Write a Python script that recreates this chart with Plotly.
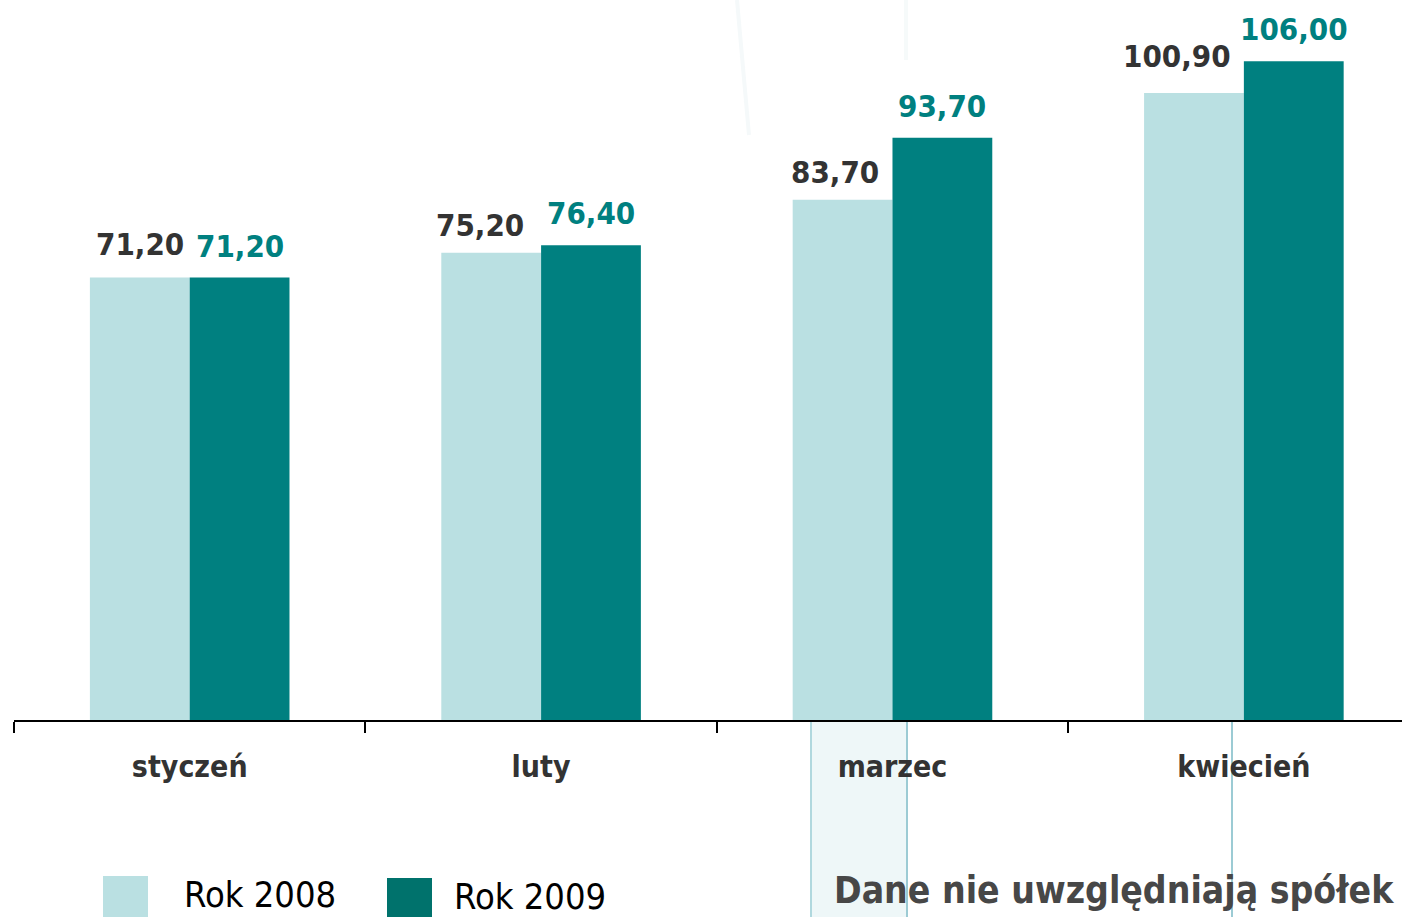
import plotly.graph_objects as go

# ---- data ----
months = ["styczeń", "luty", "marzec", "kwiecień"]
rok_2008 = [71.20, 75.20, 83.70, 100.90]
rok_2009 = [71.20, 76.40, 93.70, 106.00]
series_names = ["Rok 2008", "Rok 2009"]
note_text = "Dane nie uwzględniają spółek"

# ---- styles ----
W, H = 1402, 917
ML, MR, MT, MB = 14, 0, 0, 197
PW, PH = W - ML - MR, H - MT - MB
FONT = "DejaVu Sans Condensed, DejaVu Sans, sans-serif"
C_LIGHT = "#bae0e2"
C_DARK = "#008080"
C_LEG_DARK = "#00726c"
C_TXT = "#333333"

# label fine offsets (px) for 2008 labels
label_dx_2008 = [0, -11, -7, -17]
label_dy_2008 = [1, -5, -5, 4]


def px(x):
    return (x - ML) / PW


def py(y):
    return (H - MB - y) / PH


def fmt(v):
    return f"{v:.2f}".replace(".", ",")


fig = go.Figure()
fig.add_trace(go.Bar(x=months, y=rok_2008, name=series_names[0],
                     marker=dict(color=C_LIGHT, line=dict(width=0))))
fig.add_trace(go.Bar(x=months, y=rok_2009, name=series_names[1],
                     marker=dict(color=C_DARK, line=dict(width=0))))

annotations = []
for i, m in enumerate(months):
    annotations.append(dict(x=m, y=rok_2008[i], xref="x", yref="y", text=fmt(rok_2008[i]),
                            showarrow=False, xanchor="center", yanchor="bottom",
                            xshift=-50 + label_dx_2008[i], yshift=13 + label_dy_2008[i],
                            font=dict(family=FONT, size=31, color=C_TXT, weight="bold")))
    annotations.append(dict(x=m, y=rok_2009[i], xref="x", yref="y", text=fmt(rok_2009[i]),
                            showarrow=False, xanchor="center", yanchor="bottom",
                            xshift=50, yshift=12,
                            font=dict(family=FONT, size=31, color=C_DARK, weight="bold")))

# legend (custom large swatches)
annotations.append(dict(x=px(182), y=py(894), xref="paper", yref="paper", text=series_names[0],
                        showarrow=False, xanchor="left", yanchor="middle",
                        font=dict(family=FONT, size=36, color="#000000")))
annotations.append(dict(x=px(452), y=py(896), xref="paper", yref="paper", text=series_names[1],
                        showarrow=False, xanchor="left", yanchor="middle",
                        font=dict(family=FONT, size=36, color="#000000")))
annotations.append(dict(x=px(1396), y=py(890), xref="paper", yref="paper", text=note_text,
                        showarrow=False, xanchor="right", yanchor="middle",
                        font=dict(family=FONT, size=37, color="#474747", weight="bold")))

shapes = [
    # decorative background band
    dict(type="rect", xref="paper", yref="paper", x0=px(811), x1=px(907), y0=py(917), y1=py(722),
         fillcolor="#eef7f8", line=dict(width=0), layer="below"),
    dict(type="line", xref="paper", yref="paper", x0=px(811), x1=px(811), y0=py(917), y1=py(722),
         line=dict(color="#b0d8de", width=2), layer="below"),
    dict(type="line", xref="paper", yref="paper", x0=px(907), x1=px(907), y0=py(917), y1=py(722),
         line=dict(color="#9ccbd4", width=2), layer="below"),
    dict(type="line", xref="paper", yref="paper", x0=px(1232), x1=px(1232), y0=py(917), y1=py(722),
         line=dict(color="#9ccbd4", width=2), layer="below"),
    dict(type="line", xref="paper", yref="paper", x0=px(737), x1=px(749), y0=py(0), y1=py(135),
         line=dict(color="#f5f9fa", width=4), layer="below"),
    dict(type="line", xref="paper", yref="paper", x0=px(906), x1=px(906), y0=py(0), y1=py(60),
         line=dict(color="#f6fafa", width=4), layer="below"),
    # legend swatches
    dict(type="rect", xref="paper", yref="paper", x0=px(103), x1=px(148), y0=py(917), y1=py(876),
         fillcolor=C_LIGHT, line=dict(width=0)),
    dict(type="rect", xref="paper", yref="paper", x0=px(387), x1=px(432), y0=py(917), y1=py(878),
         fillcolor=C_LEG_DARK, line=dict(width=0)),
]

fig.update_layout(
    width=W, height=H,
    margin=dict(l=ML, r=MR, t=MT, b=MB, pad=0),
    paper_bgcolor="white", plot_bgcolor="rgba(0,0,0,0)",
    barmode="group", bargap=0.432, bargroupgap=0,
    showlegend=False,
    annotations=annotations, shapes=shapes,
    font=dict(family=FONT),
)
fig.update_xaxes(
    range=[-0.5, 3.45], showgrid=False, zeroline=False,
    showline=True, linecolor="#000000", linewidth=2,
    ticks="outside", tickson="boundaries", ticklen=11, tickwidth=2, tickcolor="#000000",
    tickfont=dict(family=FONT, size=30, color=C_TXT, weight="bold"),
    ticklabelstandoff=19,
)
fig.update_yaxes(range=[0, 115.85], visible=False, showgrid=False, zeroline=False)

fig.write_html("out.html", config={"displayModeBar": False},
               post_script="document.body.style.margin='0';document.body.style.overflow='hidden';")
